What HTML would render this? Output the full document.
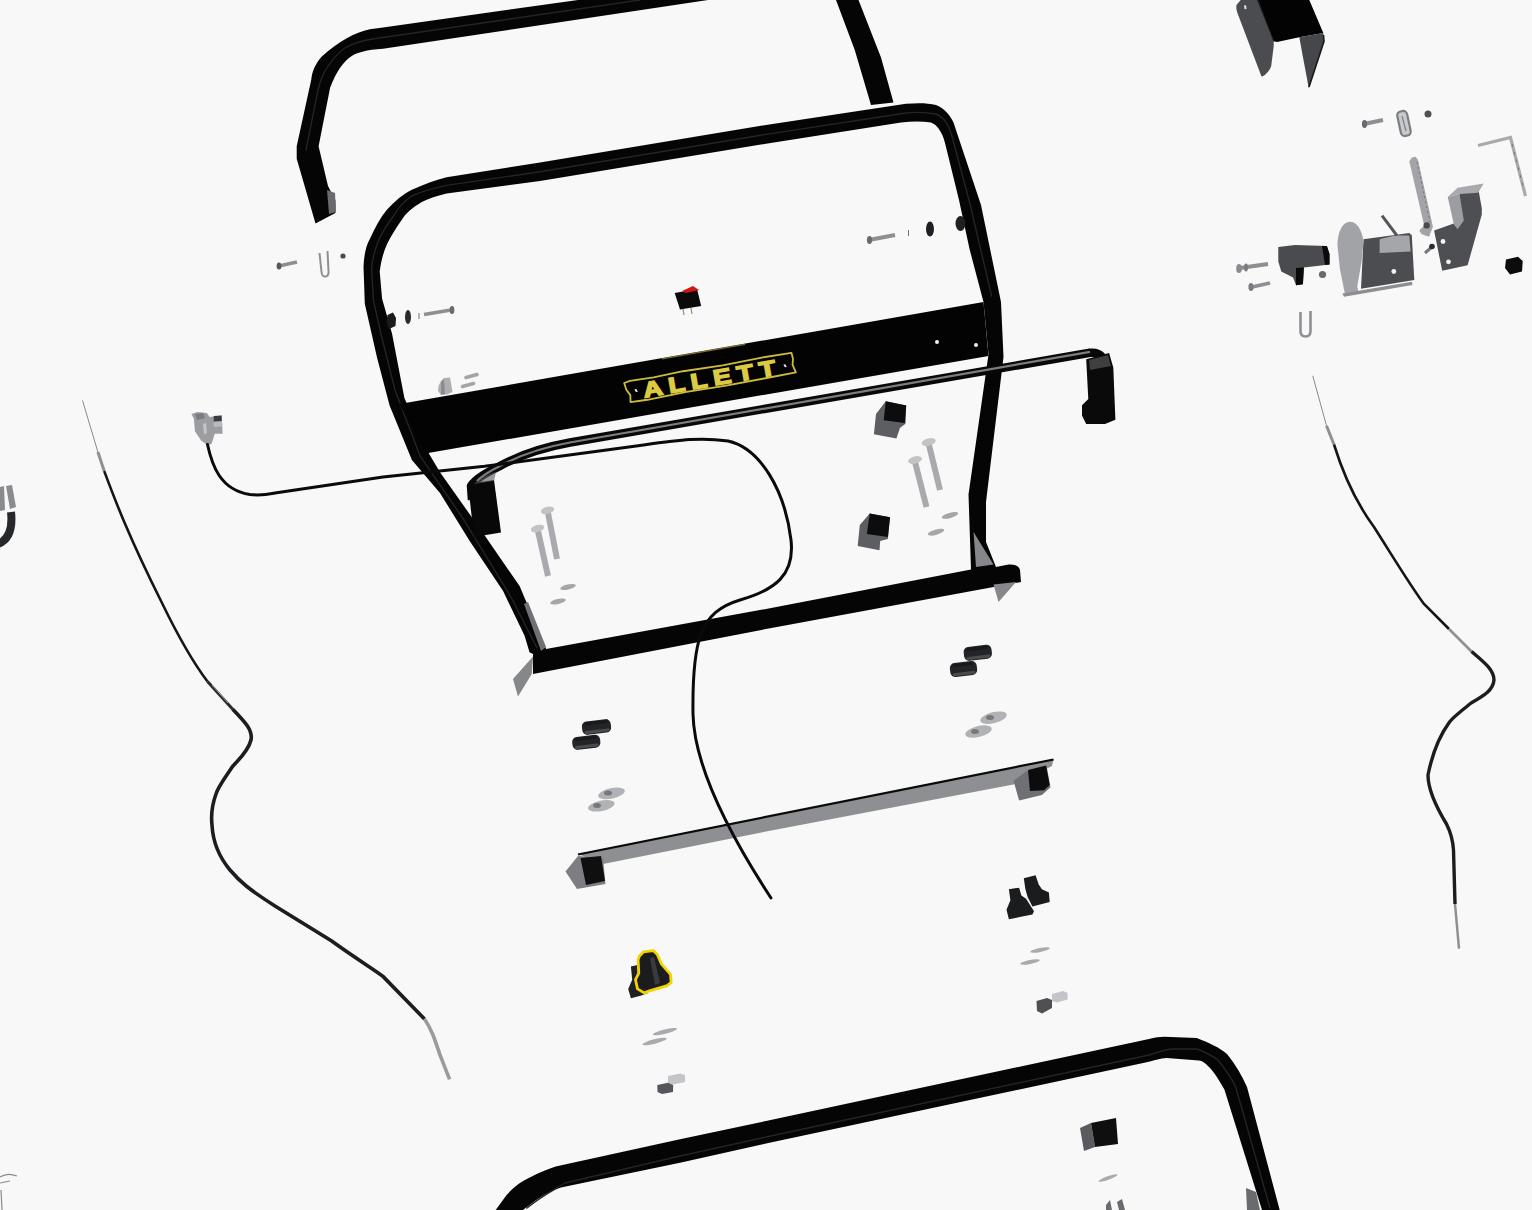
<!DOCTYPE html>
<html><head><meta charset="utf-8"><title>Parts diagram</title>
<style>
html,body{margin:0;padding:0;background:#f8f8f8;width:1532px;height:1210px;overflow:hidden;font-family:"Liberation Sans",sans-serif;}
svg{position:absolute;left:0;top:0;display:block}
</style></head><body>
<svg width="1532" height="1210" viewBox="0 0 1532 1210">
<defs><filter id="soft" x="-2%" y="-2%" width="104%" height="104%" color-interpolation-filters="sRGB"><feGaussianBlur stdDeviation="0.9"/></filter></defs>
<rect width="1532" height="1210" fill="#f8f8f8"/>
<g>

<!-- ===== top handle (partial) ===== -->
<path id="tophandle" fill="#050505" d="M578,0 L383,27.5 L369.8,29.2 C355,32 338,42 321.8,56.4 C315,64 312,72 311.3,79.4 L296.7,146.2 L296.7,158.7 L315.5,223.5 L335.4,213 L335.4,200.5 L328,185.9 L318.6,146.2 L330.1,87.7 C336,72 343,62 351,56.4 C358,52 366,50 383,48.75 L708,0 Z"/>
<path fill="#6a6a6e" d="M327,190 L335,193 L336,212 L329,214 Z"/>
<path fill="#050505" d="M836,0 L858.5,0 L881,57.5 L893.5,102.5 L871,105 L854.75,50 Z"/>

<!-- ===== main frame ===== -->
<path fill="#050505" fill-rule="evenodd" d="
M529.5,652.3 L524.6,635.8 L503.1,591.1 L470,541.5 L440,493 L411.9,459.9 L389.6,405.4 L377.2,358.3 L364.8,303.7 L363.5,266.6 C364,255 366,246 369.7,239.3 C375,228 380,218 387.1,209.6 C395,201 403,194 411.9,189.7 C425,184 436,180 446.6,177.3 L540,162.5 L766,125 L906,103.75 C918,103 928,103 936,105 C945,109 950,115 953.5,122.5 L966,160 L981,205 L1001,302 L1003.5,357 L986,502 L986,542 L996,567 L1008.5,564.5 C1015,564 1019,566 1020,570 L1021,582 L766,629 L533,674 L533,654 Z
M446.6,193.5 C436,196 428,199 421.8,202 C412,208 406,213 402,219.5 C396,228 391,236 387,244.3 C383,253 381,262 379.7,271.5 L382.1,298.8 L392,333.5 L404.4,397.9 L428,452 L440,472.3 L484.9,535.7 L519.6,586.1 L546.1,649 L766,609 L971,569.5 L968.5,494.5 L988.5,354.5 L983.5,302 L969.6,249.3 L959,200 L946,147 C944,138 942,134 941,132.5 C938,127 935,124 931,122.5 C922,121 912,121 901,122.5 L766,143.75 L540,181 Z"/>
<!-- tube highlights -->
<g fill="none" stroke="#222428" stroke-width="1.4" stroke-linecap="round">
<path d="M991.6,296 L970,204 L953,140 C950,128 946,118 936,114 C925,112 915,112 906,113 L766,134.4 L540,171.75 L446.6,185.4 C430,189 418,193 411.9,196 C402,203 398,208 394.5,214.5 C386,226 381,234 378,242 C374,252 372,260 371.6,269 L373.5,301 L381,334 L395,390 L420,456 L462,517 L511,597 L537,648"/>

<path d="M306,150 L318,90 C322,72 332,58 345,48 C355,42 365,40 376,38.5 L640,0"/>
</g>
<path fill="#707175" d="M524,604 L528,602 L546,647 L541,651 Z"/>
<!-- feet -->
<path fill="#86878b" d="M513,679 L533,656.5 L531.75,674 L518,696.5 Z"/>
<path fill="#86878b" d="M973.5,532 L993.5,564.5 L976,567 Z"/>
<path fill="#86878b" d="M993.5,584.5 L1016,582 L998.5,602 Z"/>

<!-- console plate -->
<path fill="#030303" d="M399.5,404 L983.5,302 L988.5,356 L426.75,453.25 Z"/>
<path stroke="#c9b845" stroke-width="1.2" opacity="0.6" d="M662,358.8 L745,344.4"/>
<!-- badge -->
<g transform="translate(624,382) rotate(-9.85)">
  <path fill="none" stroke="#cdbb3a" stroke-width="1.8" stroke-linejoin="round" d="M0,1 L6,0 L30,0.5 L60,-0.5 L100,0.5 L140,-0.5 L170,0 L170.5,6 L169,12 L171,20 L140,20.5 L100,21 L60,20.5 L20,21.5 L3,21 L4,14 L1,8 Z"/>
  <text transform="scale(1.25,1)" x="14" y="19" fill="#dccb42" stroke="#dccb42" stroke-width="1.5" font-family="Liberation Sans" font-weight="bold" font-size="21.5" letter-spacing="5">ALLETT</text>
  <path fill="#e8e8e8" d="M9,9 L11,9 L12,12 L10,12 Z M160,10 L162,10 L163,13 L161,13 Z"/>
</g>
<!-- white holes on plate -->
<circle cx="937" cy="342" r="2" fill="#f0f0f0"/>
<circle cx="976" cy="345" r="2" fill="#f0f0f0"/>

<!-- ===== thin U rod ===== -->
<path fill="none" stroke="#080808" stroke-width="8.5" stroke-linejoin="round" d="M1106,372 C1106,358 1101,352 1090,352.8 L570,442.5 C545,447 520,455 500,466 C488,472 476,478 471,486 L472,500"/>
<path fill="none" stroke="#7c7d81" stroke-width="2.2" d="M1090,351.8 L570,442.5 C545,447 520,455 500,466 C490,471 482,476 477,481"/>
<path fill="#080808" d="M468,484 L474,537 L501,532.5 L494,480 Z"/>
<path fill="#5a5b5f" d="M474,484 C480,478 488,474 496,472 L494,481 Z" opacity="0.6"/>
<path fill="#0a0a0a" d="M1086.2,359.2 L1109.1,353 L1113.3,367.6 L1115.4,419.8 L1105,424 L1086.2,424 L1082,415.6 L1082,405.2 L1088.3,398.9 Z"/>
<path fill="#55565a" d="M1089,360 L1108,355 L1111,366 L1090,370 Z" opacity="0.7"/>
<!-- ===== cables ===== -->
<!-- connector -->
<path fill="#9c9da1" d="M191.4,413.9 L197.4,411.9 L206.8,412.9 L209.7,416.9 L221.6,415.4 L222.6,433.7 L214.7,433.7 L211.7,443.6 L207.8,445.6 L201.3,440.7 L194.9,431.2 L193.9,418.8 Z"/>
<path fill="#3c3d41" d="M213.7,416 L221.6,415.4 L221.8,421 L213.7,421.5 Z"/>
<path fill="#b9babe" d="M213.7,422 L222,421.5 L222.4,426.5 L213.7,427 Z"/>
<path fill="#c4c5c9" d="M203,424 L206,423 L207,433 L204,434 Z"/>
<path fill="#7b7c80" d="M195,414 L203,413 L205,418 L197,420 Z"/>
<!-- left long cable -->
<path fill="none" stroke="#8a8a8e" stroke-width="1" d="M82.5,400.5 L97.9,452"/>
<path fill="none" stroke="#8f9094" stroke-width="3" d="M97.9,452 L104.2,471"/>
<path fill="none" stroke="#151515" stroke-width="2.6" d="M104.2,471 C115,500 128,535 162.5,604 C180,640 195,665 207.5,681.5"/>
<path fill="none" stroke="#2a2a2d" stroke-width="3" d="M207.5,681.5 L232.5,709"/><path fill="none" stroke="#a0a1a5" stroke-width="1" d="M212,685 L228,703"/>
<path fill="none" stroke="#1c1d20" stroke-width="3.6" d="M232.5,709 C245,722 253,730 251,740 C248,752 238,760 232.5,766.5 C225,778 218,787 216,794 C212,805 211,816 212,825 C213,845 220,858 230,870 C240,882 250,890 275,906 L331.7,941 C355,958 375,970 383,976.4 L424.5,1019"/>
<path fill="none" stroke="#9a9b9f" stroke-width="3.6" d="M424.5,1019 C432,1030 435,1040 440,1055 L449.6,1079.4"/>

<!-- right long cable -->
<path fill="none" stroke="#8a8a8e" stroke-width="1" d="M1312.75,375.75 L1326.5,425.75"/>
<path fill="none" stroke="#8f9094" stroke-width="3" d="M1326.5,425.75 L1334,444.5"/>
<path fill="none" stroke="#151515" stroke-width="2.6" d="M1334,444.5 C1345,480 1360,508 1374,527 C1395,560 1410,585 1424,604 L1449,629"/>
<path fill="none" stroke="#8f9094" stroke-width="2.6" d="M1449,629 L1471.5,651.5"/>
<path fill="none" stroke="#1c1d20" stroke-width="3.4" d="M1471.5,651.5 C1485,663 1494,670 1494,680 C1493,690 1485,695 1471.5,702.75 C1460,712 1452,718 1449,722.75 C1438,738 1432,755 1428,775 C1428,790 1438,810 1446.5,824 C1452,835 1453,842 1453.5,850 L1455,904"/>
<path fill="none" stroke="#8f9094" stroke-width="2.5" d="M1455,904 L1459,948.7"/>

<!-- ===== bottom handle ===== -->
<path fill="#050505" d="M495.7,1210 L503.5,1199.2 C507,1194 512,1189 519.2,1183.6 C530,1177 540,1172 555.7,1166.6 L680,1139.2 L766,1121 L1149,1039 C1155,1037.5 1160,1036.8 1164,1036.7 L1196.7,1038 C1210,1043 1220,1048 1227,1054 C1236,1065 1242,1076 1247,1087 L1279.7,1210 L1262,1210 L1224.4,1089.5 C1219,1080 1214,1072 1209,1067 C1205,1063 1202,1061 1199,1060.6 L1166.6,1058 C1160,1058.5 1155,1060 1149,1061.8 L766,1143.5 L680,1162.7 L560.9,1187.5 C550,1191 540,1197 532.2,1203.1 L523,1210 Z"/>
<g fill="none" stroke="#222428" stroke-width="1.4" stroke-linecap="round"><path d="M527,1208 C540,1197 552,1191 565,1183 L680,1156 L766,1137 L1149,1055 C1158,1052 1164,1050 1171,1049 L1197,1049 C1207,1053 1213,1056 1218,1060 C1226,1070 1232,1078 1236,1088 L1270,1208"/></g>
<path fill="#6a6b6f" d="M1246,1188 L1256,1192 L1260,1210 L1247,1210 Z"/>

<!-- ===== grey steel strip ===== -->
<path fill="#8e8f93" d="M578,854 L1053.5,759 L1052,766 L1016,784 L766,831.5 L603,864 Z"/>
<path fill="none" stroke="#0a0a0a" stroke-width="2.2" d="M578,854.5 L1053.5,759.5"/>
<path fill="#7d7e82" d="M565.5,871.5 L578,856 L603,858 L605.5,884 L577,889 Z"/>
<path fill="#0f0f10" d="M580.5,858 L601,856 L605,881 L586,885 Z"/>
<path fill="#6f7074" d="M1013.6,780.9 L1026.1,771.4 L1046.6,765.9 L1050.5,787.2 L1041.9,795 L1019.1,800.5 Z"/>
<path fill="#0c0c0d" d="M1028,770 L1046,765.5 L1049.7,785 L1044,790.3 L1030,791 Z"/>

<!-- harness -->
<path fill="none" stroke="#0a0a0a" stroke-width="3" stroke-linecap="round" d="M207.5,444.5 C212,465 220,490 250,494.5 C262,496 270,494 275,493 L383,477 L484.6,466.3 L640,445.5 C680,440 700,437 728,441 C760,448 785,490 791,540 C795,575 775,590 740,600 C700,612 692,640 693,714 C694,760 720,820 771,898"/>
<!-- ===== small hardware ===== -->
<!-- switch -->
<path fill="#0b0b0b" d="M674.7,293 L697,289 L701.2,306 L680,309.5 Z"/>
<path fill="#d41414" d="M682,291 L693,286 L699,290 L686,293 Z"/>
<path stroke="#9c8a6a" stroke-width="1.2" d="M683,309 L684,315 M691,308 L692,314"/>

<!-- screws near left of frame -->
<path fill="#1a1b1d" d="M387.5,315 L393,312.5 L396,318 L395.5,326 L389,329 L386.5,322 Z"/>
<ellipse cx="408" cy="317" rx="3" ry="7" fill="#2a2b2e"/>
<path stroke="#707176" stroke-width="1" d="M419,313 L419,319"/>
<path stroke="#8e8f93" stroke-width="3.6" d="M424,314.5 L451,310"/>
<ellipse cx="452" cy="310" rx="2.4" ry="4" fill="#6a6b6f"/>
<!-- small parts on plate top-left -->
<path fill="#aeafb3" d="M438.5,386 L441,381 L444,378 L450,377.5 L452.5,392 L447,394.5 L441,395 L438,391 Z"/><path fill="#8a8b8f" d="M441,382 L444,379 L445,394 L441,394.5 Z"/>
<path stroke="#a3a4a8" stroke-width="3.6" stroke-linecap="round" d="M466,377.5 L477,374.5 M462.5,386.5 L473.5,383.5"/>

<!-- screws right of frame -->
<path stroke="#8e8f93" stroke-width="4" d="M869,240 L895,235"/>
<ellipse cx="869.5" cy="240" rx="2.6" ry="4" fill="#6a6b6f"/>
<path stroke="#707176" stroke-width="1" d="M908.5,230 L908.5,236"/>
<ellipse cx="930" cy="229" rx="4" ry="7.5" fill="#1e1f22"/>
<ellipse cx="960.5" cy="223.5" rx="5" ry="7.5" fill="#1f2023"/>

<!-- left top small group -->
<path stroke="#8e8f93" stroke-width="3.6" d="M279,266 L297,262"/>
<ellipse cx="279" cy="266" rx="2.4" ry="3.6" fill="#56575b"/>
<path fill="none" stroke="#8f9094" stroke-width="2" d="M319.5,253 L321.5,272 Q322,277 325.5,276.5 Q329,276 328.5,271 L327.5,251"/>
<circle cx="343" cy="256" r="2.6" fill="#4a4b4f"/>

<!-- bolts -->
<g stroke-linecap="butt">
<path stroke="#a9aaae" stroke-width="6" d="M538,531 L548,576"/>
<path stroke="#a9aaae" stroke-width="6" d="M548,513 L557,559"/>
<path stroke="#a9aaae" stroke-width="6" d="M915,462 L926.5,507"/>
<path stroke="#a9aaae" stroke-width="6" d="M929,445 L940,490"/>
</g>
<g fill="#c2c3c7">
<ellipse cx="537.5" cy="528.5" rx="6.8" ry="3.6" transform="rotate(-14 537.5 528.5)"/>
<ellipse cx="547.5" cy="510.3" rx="6.8" ry="3.6" transform="rotate(-14 547.5 510.3)"/>
<ellipse cx="915" cy="460" rx="7" ry="3.6" transform="rotate(-14 915 460)"/>
<ellipse cx="928.7" cy="442" rx="7.2" ry="3.6" transform="rotate(-14 928.7 442)"/>
</g>
<g fill="#a5a6aa">
<ellipse cx="568" cy="587" rx="8" ry="2.5" transform="rotate(-12 568 587)"/>
<ellipse cx="558" cy="601.5" rx="8" ry="2.5" transform="rotate(-12 558 601.5)"/>
<ellipse cx="950" cy="515.4" rx="8.5" ry="2.6" transform="rotate(-16 950 515.4)"/>
<ellipse cx="936" cy="532.2" rx="8.5" ry="2.6" transform="rotate(-16 936 532.2)"/>
</g>

<!-- cubes -->
<path fill="#5d5e62" d="M885.8,401.2 L906.2,405.5 L905.5,423.7 L899.9,427.9 L896.4,438.5 L873.9,434.3 L876,413.9 Z"/>
<path fill="#0c0c0e" d="M885.8,401.2 L906.2,405.5 L904.8,423 L883.7,420.2 Z"/>
<path fill="#5d5e62" d="M869.7,513.6 L890,517.2 L887.9,538.9 L880.2,541 L879.5,550.2 L857.7,546 L859.8,524.9 Z"/>
<path fill="#0c0c0e" d="M869.7,513.6 L890,517.2 L887.9,536.9 L866.9,534 Z"/>

<!-- nuts (black) -->
<g transform="translate(596.5,727) rotate(-7)"><rect x="-14.5" y="-6.75" width="29" height="13.5" rx="5" fill="#232427"/><rect x="-12.5" y="2.75" width="25" height="3" rx="1.5" fill="#4a4b4f"/><rect x="-11.5" y="-5.75" width="23" height="3" rx="1.5" fill="#18191b"/></g>
<g transform="translate(586.3,742.3) rotate(-7)"><rect x="-14.0" y="-6.5" width="28" height="13" rx="5" fill="#232427"/><rect x="-12.0" y="2.5" width="24" height="3" rx="1.5" fill="#4a4b4f"/><rect x="-11.0" y="-5.5" width="22" height="3" rx="1.5" fill="#18191b"/></g>
<g transform="translate(977.8,652.8) rotate(-7)"><rect x="-14.0" y="-7.0" width="28" height="14" rx="5" fill="#232427"/><rect x="-12.0" y="3.0" width="24" height="3" rx="1.5" fill="#4a4b4f"/><rect x="-11.0" y="-6.0" width="22" height="3" rx="1.5" fill="#18191b"/></g>
<g transform="translate(963.5,669) rotate(-7)"><rect x="-13.5" y="-7.0" width="27" height="14" rx="5" fill="#232427"/><rect x="-11.5" y="3.0" width="23" height="3" rx="1.5" fill="#4a4b4f"/><rect x="-10.5" y="-6.0" width="21" height="3" rx="1.5" fill="#18191b"/></g>
<!-- washers light -->
<g fill="#b1b2b6">
<ellipse cx="611.5" cy="793.4" rx="13.5" ry="5.2" transform="rotate(-12 611.5 793.4)"/>
<ellipse cx="601.3" cy="805.8" rx="13.5" ry="5.2" transform="rotate(-12 601.3 805.8)"/>
<ellipse cx="993.5" cy="717.7" rx="13.5" ry="5.5" transform="rotate(-14 993.5 717.7)"/>
<ellipse cx="978.5" cy="731.5" rx="13.5" ry="5.5" transform="rotate(-14 978.5 731.5)"/>
</g>
<g fill="#77787c">
<ellipse cx="608" cy="793" rx="4" ry="2.5"/>
<ellipse cx="597" cy="805.5" rx="4" ry="2.5"/>
<ellipse cx="990" cy="717.5" rx="4" ry="2.5"/>
<ellipse cx="975" cy="731.5" rx="4" ry="2.5"/>
</g>
<g fill="#a9aaae">
<ellipse cx="1040" cy="950" rx="10" ry="2" transform="rotate(-12 1040 950)"/>
<ellipse cx="1030" cy="962" rx="10" ry="2" transform="rotate(-12 1030 962)"/>
<ellipse cx="665" cy="1031.6" rx="12.5" ry="2.2" transform="rotate(-14 665 1031.6)"/>
<ellipse cx="654.6" cy="1041.5" rx="12.5" ry="2.2" transform="rotate(-14 654.6 1041.5)"/>
<ellipse cx="1108" cy="1178" rx="10" ry="1.8" transform="rotate(-20 1108 1178)"/>
</g>
<g fill="#8d8e92">
<path fill="#c4c5c9" d="M668,1076 L680,1073.6 L685,1075 L685.1,1082 L673,1084.5 L668,1083 Z"/>
<path fill="#55565a" d="M657.3,1085 L668,1082.8 L673.2,1085 L673,1092 L662,1094 L657.5,1092 Z"/>
<path fill="#c4c5c9" d="M1052,994 L1063,991 L1067.6,993 L1067.6,999.5 L1057,1002.5 L1052,1001 Z"/>
<path fill="#4f5054" d="M1036.5,1001 L1047,998 L1052,1000 L1052,1008 L1042,1013.5 L1037,1011 Z"/>
</g>

<!-- black clip bottom right -->
<path fill="#1b1c1e" d="M1023.8,878.3 L1035.6,875.2 L1038.7,884.6 L1041.9,889.3 L1048.9,892.5 L1049.7,901.9 L1032.4,906.6 L1027.7,897.2 L1025.4,889.3 Z"/>
<path fill="#1b1c1e" d="M1008.9,889.3 L1019.1,887.7 L1021.4,895.6 L1026.1,898.7 L1034,911.3 L1032.4,914.5 L1008.9,919.2 L1006.5,909.8 L1010.4,900.3 Z"/>
<!-- yellow outlined clip -->
<path fill="#1f2022" d="M630.9,966.4 L637.5,965.1 L638.1,990.2 L648.1,992.9 L641.4,995.5 L630.9,998.2 L628.2,988.9 L632.2,979.7 Z"/>
<path fill="#1c1c1e" stroke="#f2d200" stroke-width="2.8" stroke-linejoin="round" d="M639.5,955.9 L643.4,951.9 L653.3,950.6 L657.3,954.5 L661.3,963.8 L670.5,974.4 L671.2,982.3 L667.2,985.6 L649.4,990.9 L644.1,992.9 L637.5,988.9 L635.5,979.7 L638.8,973.1 L638.1,959.8 Z"/>
<path fill="#3a3b3e" d="M650,958 L654,957 L660,983 L655,985 Z"/>
<!-- black cube bottom -->
<path fill="#5a5b5f" d="M1080,1128 L1091,1123 L1095,1147 L1084,1151 Z"/>
<path fill="#0f0f10" d="M1091,1123 L1116,1118 L1118,1144 L1095,1147 Z"/>
<path fill="#6a6b6f" d="M1106,1205 L1110,1200 L1112,1210 L1106,1210 Z M1117,1202 L1122,1199 L1125,1210 L1119,1210 Z"/>

<!-- left partial U -->
<path fill="none" stroke="#27282b" stroke-width="8" d="M11,512 C13,530 8,540 -2,544"/>
<path fill="#8a8b8f" d="M0,487 L4,486 L5,510 L0,511 Z M6,486 L12,485 L16,507 L10,509 Z"/>
<path fill="none" stroke="#8a8b8f" stroke-width="1.2" d="M0,1177 C6,1173 12,1174 17,1176 M0,1183 L10,1181 M1,1190 L2,1210"/>

<!-- ===== right mechanism ===== -->
<!-- U channel bracket top -->
<path fill="#4b4c50" d="M1240.7,0 L1258,0 L1273.7,41.3 L1273.7,46.3 L1271.2,66.1 C1270,70 1268,72 1266.3,73.6 C1264,76 1262.5,77 1261.3,76 L1238.2,14.9 C1236.5,11 1236,8 1236.5,5 Z"/>
<path fill="#030303" d="M1257.2,0 L1309.3,0 L1323.3,33.1 L1299.3,37.2 L1277,42 L1273.7,41.3 Z"/>
<path fill="#46474b" d="M1299.3,37.2 L1323.3,33.1 L1324.1,41.3 L1308.8,88.4 Z"/>
<path fill="none" stroke="#1a1a1c" stroke-width="1.6" d="M1323.5,35 L1324,41.3 L1309,87"/>
<path fill="none" stroke="#202022" stroke-width="1" d="M1258,0 L1273.7,41.3"/>
<path fill="#e0e0e0" d="M1244,5.5 L1246,5.3 L1246.5,9 L1244.6,9.2 Z"/>
<path stroke="#8e8f93" stroke-width="4" d="M1364,124 L1383,120"/>
<ellipse cx="1364.5" cy="124" rx="2.6" ry="4" fill="#6a6b6f"/>
<rect x="-5" y="-12.5" width="10" height="25" rx="4" fill="#c9cacd" stroke="#7d7e82" stroke-width="2.2" transform="translate(1404,123.5) rotate(-12)"/><path stroke="#7d7e82" stroke-width="1.2" d="M1402,116 L1406,131"/>
<circle cx="1428" cy="114" r="3.5" fill="#505155"/>
<path fill="none" stroke="#a9aaae" stroke-width="3.2" stroke-linejoin="miter" d="M1478,145.5 L1510.5,137.5 L1525.5,196"/><path fill="none" stroke="#77787c" stroke-width="1" stroke-dasharray="3 5" d="M1512,144 L1524,190"/>
<!-- lever -->
<path fill="#a3a4a8" d="M1409.3,161.2 L1412,157.5 L1415.5,156.8 L1418,159.9 L1432.9,226.8 L1429.1,236.8 L1421.7,234.3 L1419.2,230.6 L1424.2,225.6 Z"/>
<path fill="none" stroke="#6e6f73" stroke-width="1" stroke-dasharray="2 3" d="M1417,162 L1430,222"/>
<circle cx="1426.7" cy="225.4" r="3.2" fill="#4a4b4f"/>
<path stroke="#77787c" stroke-width="3" d="M1425,253 L1433,246"/>
<circle cx="1432" cy="246.5" r="2.8" fill="#2a2b2e"/>
<!-- right bracket -->
<path fill="#4e4f53" d="M1458.9,189.7 L1478.7,190.9 L1481.8,208.2 L1481.8,214.4 L1467.6,265.3 L1442.2,270.8 L1434.1,230.6 L1455.2,223.1 L1461.4,221.9 Z"/>
<path fill="#a9aaae" d="M1447.7,197.1 L1457.6,187.8 L1483.7,183.5 L1478.1,192.8 L1459.5,194 Z"/>
<path fill="#9c9da1" d="M1447.7,197.1 L1459.5,194 L1463.8,220.6 L1457.6,229.3 L1453.9,224.4 Z"/>
<circle cx="1443" cy="241.5" r="2.4" fill="#f4f4f4"/>
<circle cx="1448.5" cy="261.8" r="2.4" fill="#f4f4f4"/>
<!-- black nut -->
<path fill="#0c0c0d" d="M1506,259.5 L1518,256.7 L1522.7,261 L1522,271.5 L1510,274.5 L1505,268 Z"/>
<!-- main box -->
<path fill="#4c4d51" d="M1363.5,239.2 L1409.3,233 L1411.8,235.5 L1414.3,280.1 L1361,288.8 Z"/>
<path fill="#a2a3a7" d="M1337.4,244.2 C1338,232 1342,223 1348.6,221.9 C1353,221.5 1356,223.5 1358.5,226.8 C1361,231 1363,236 1363.5,241.7 L1361.6,261.5 L1357.3,286.3 L1358.5,292.5 L1344.9,293.8 L1339.9,269 Z"/>
<path fill="#8d8e92" d="M1342.4,293.5 L1411.8,281.7 L1412.5,285 L1344,296.8 Z"/>
<path fill="#a5a6aa" d="M1379.6,239.2 L1394.4,235.5 L1409.3,235.5 L1410.6,251.6 L1379.6,252.9 Z"/>
<path stroke="#55565a" stroke-width="3" d="M1382,215.7 L1396.9,235.5"/>
<circle cx="1393.8" cy="271.5" r="2.4" fill="#f4f4f4"/>
<!-- black block -->
<path fill="#4a4b4f" d="M1278.3,246.9 L1295,244.9 L1326.6,245.9 L1329.5,253.8 L1329.5,264.6 L1303.9,267.6 L1302.9,284.3 L1296,285.3 L1293.1,277.4 L1281.3,271.5 L1278.3,261.6 Z"/>
<path fill="#0a0a0b" d="M1322,246 L1327,246 L1329.5,254 L1329.5,264.6 L1325,265 Z"/>
<path fill="#0a0a0b" d="M1296,268 L1303.9,267.6 L1302.9,284.3 L1296,285.3 Z"/>
<circle cx="1322.5" cy="274.5" r="3.6" fill="#6a6b6f"/>
<path stroke="#8e8f93" stroke-width="4.2" d="M1240,268 L1268,264"/>
<ellipse cx="1239" cy="268.5" rx="2.8" ry="4.6" fill="#8a8b8f"/><ellipse cx="1246" cy="267.5" rx="2" ry="4" fill="#7a7b7f"/>
<path stroke="#8e8f93" stroke-width="3.8" d="M1252,287 L1270,283"/>
<ellipse cx="1251" cy="287" rx="2.6" ry="4" fill="#7a7b7f"/>
<!-- U clip lower -->
<path fill="none" stroke="#8f9094" stroke-width="2.6" d="M1300.5,312 L1300.5,331 Q1300.5,336.5 1305.5,336.5 Q1310.5,336.5 1310.5,331 L1310.5,311"/>

</g>
</svg>
</body></html>
